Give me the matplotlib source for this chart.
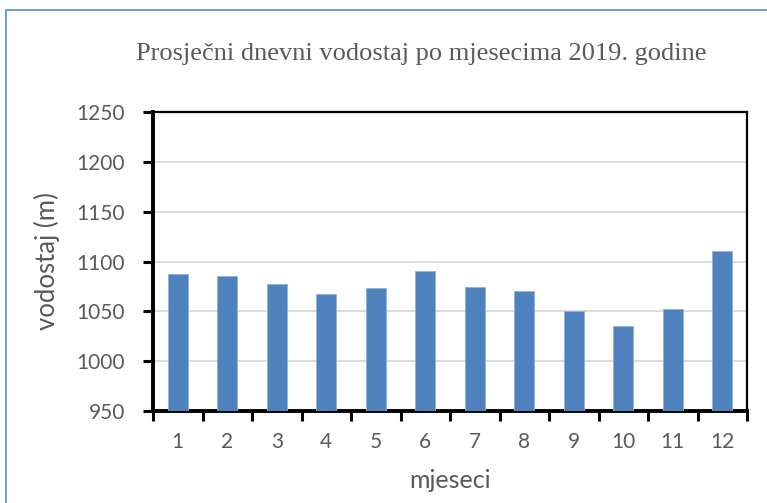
import matplotlib
matplotlib.use("Agg")
import matplotlib.pyplot as plt
from matplotlib.patches import Rectangle
import numpy as np

# average daily water level per month, 2019
months = ["1", "2", "3", "4", "5", "6", "7", "8", "9", "10", "11", "12"]
levels = [1087, 1085, 1077, 1067, 1073, 1090, 1074, 1070, 1050, 1035, 1052, 1111]
y_ticks = [950, 1000, 1050, 1100, 1150, 1200, 1250]

BAR = "#4F81BD"
GREY_TXT = "#595959"

fig = plt.figure(figsize=(7.67, 5.03), dpi=100)
# outer chart frame (runs off the right/bottom edge like the screenshot)
fig.patches.append(Rectangle((6 / 767, -0.02), 1.0, 1 - 10 / 503 + 0.02,
                             transform=fig.transFigure, fill=False,
                             edgecolor="#5B8BD0", lw=1.2))

ax = fig.add_axes([153 / 767, 1 - 411 / 503, (747 - 153) / 767, (411 - 112) / 503])
x = np.arange(len(months))
ax.bar(x, levels, width=0.41, color=BAR, edgecolor="#8EB0DC", lw=0.6, zorder=3)

ax.set_ylim(950, 1250)
ax.set_xlim(-0.5, len(months) - 0.5)
ax.set_yticks(y_ticks)
ax.set_yticklabels([str(v) for v in y_ticks])
ax.yaxis.grid(True, color="#D9D9D9", lw=1.3, zorder=0)

# category labels at centres, tick marks between categories
ax.set_xticks(x)
ax.set_xticklabels(months)
ax.set_xticks(np.arange(-0.5, len(months)), minor=True)
ax.tick_params(axis="x", which="major", length=0, pad=15)
ax.tick_params(axis="x", which="minor", length=7, width=2.2, color="black", direction="out")
ax.tick_params(axis="y", length=7, width=2.2, color="black", direction="out", pad=13)
ax.tick_params(labelsize=15, labelcolor=GREY_TXT)
for lab in ax.get_xticklabels() + ax.get_yticklabels():
    lab.set_family("Lato")

for side in ("left", "bottom"):
    ax.spines[side].set_linewidth(2.8)
for side in ("top", "right"):
    ax.spines[side].set_linewidth(1.6)

ax.set_ylabel("vodostaj (m)", fontsize=18.5, color=GREY_TXT, family="Lato", labelpad=12)
ax.set_xlabel("mjeseci", fontsize=18, color=GREY_TXT, family="Lato", labelpad=12)

fig.text(0.549, 1 - 54 / 503, "Prosječni dnevni vodostaj po mjesecima 2019. godine",
         ha="center", va="center", fontsize=19, color=GREY_TXT, family="Liberation Serif")

fig.savefig("out.png", dpi=100)
